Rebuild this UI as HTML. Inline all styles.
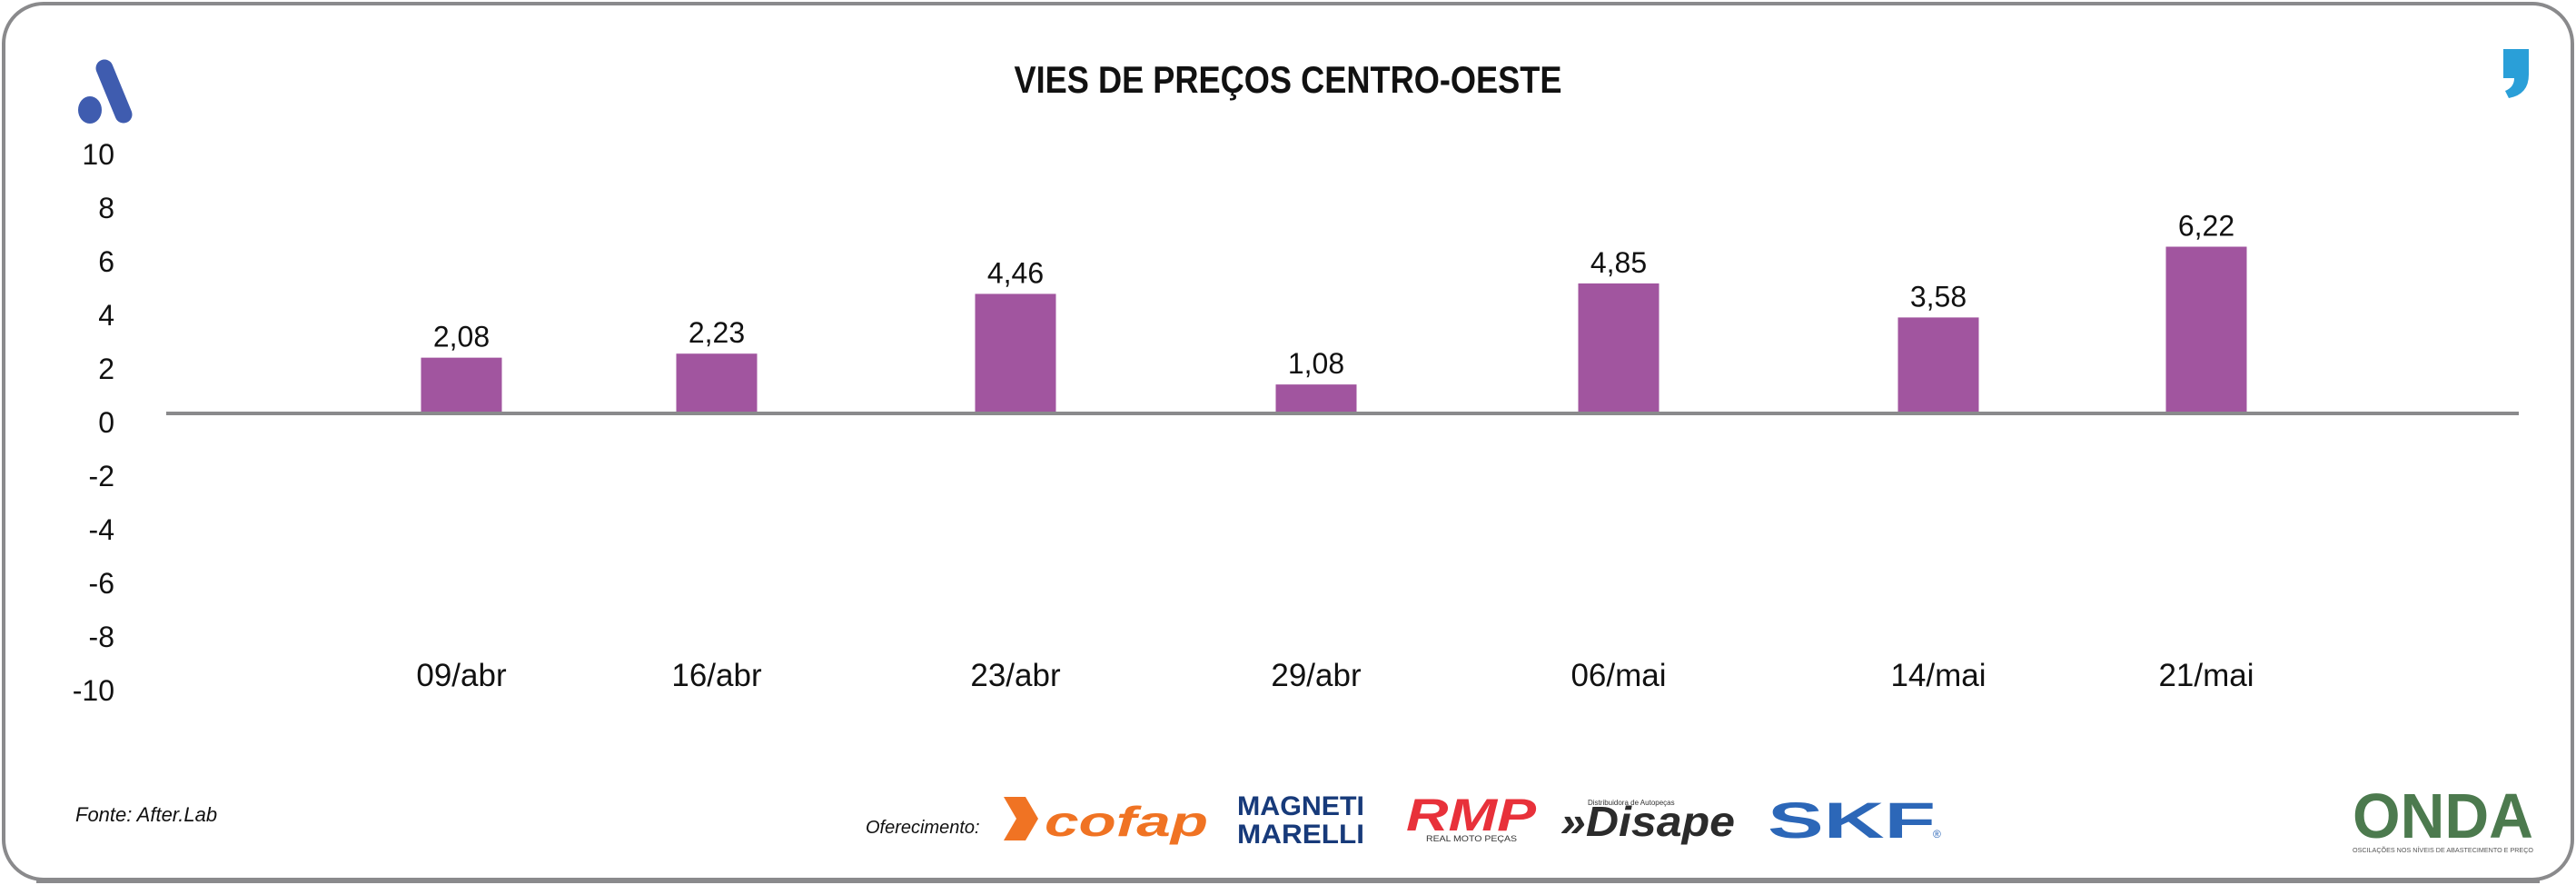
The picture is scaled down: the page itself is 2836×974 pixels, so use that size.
<!DOCTYPE html>
<html><head><meta charset="utf-8"><style>
html,body{margin:0;padding:0;background:#fff}
svg{display:block}
text{font-family:"Liberation Sans Narrow","Liberation Sans",sans-serif}
</style></head><body>
<svg id="chart" width="2836" height="974" viewBox="0 0 2836 974" xmlns="http://www.w3.org/2000/svg">
<rect x="4" y="4" width="2828" height="964" rx="44" fill="#fff" stroke="#8a8a8c" stroke-width="4"/>
<line x1="40" y1="969" x2="2796" y2="969" stroke="#8a8a8c" stroke-width="6"/>
<g>
<line x1="115" y1="75" x2="136" y2="126" stroke="#3f5caf" stroke-width="19" stroke-linecap="round"/>
<ellipse cx="99" cy="121" rx="13" ry="15" fill="#3f5caf"/>
</g>
<path d="M2756 54 h28 v28 q0 22 -22 26 l-4 -8 q10 -4 10 -14 h-12 z" fill="#2a9fd8"/>
<text x="1418" y="102" text-anchor="middle" font-size="42" font-weight="bold" textLength="603" lengthAdjust="spacingAndGlyphs" fill="#111">VIES DE PREÇOS CENTRO-OESTE</text>
<g id="yaxis"></g>
<g id="bars"></g>
<line id="zero" x1="183" x2="2773" stroke="#8a8a8c" stroke-width="4"/>
<g id="xaxis"></g>
<text x="83" y="904" font-size="22" font-style="italic" fill="#111">Fonte: After.Lab</text>
<text x="953" y="917" font-size="20" font-style="italic" fill="#111">Oferecimento:</text>
<g>
<path d="M1105 877 h24 l14 24 l-14 24 h-24 l14 -24 z" fill="#f07323"/>
<text x="1150" y="920" font-size="46" font-weight="bold" font-style="italic" fill="#f07323" textLength="180" lengthAdjust="spacingAndGlyphs">cofap</text>
</g>
<g>
<text x="1432" y="897" text-anchor="middle" font-size="30" font-weight="bold" fill="#173a7a" textLength="140" lengthAdjust="spacingAndGlyphs">MAGNETI</text>
<text x="1432" y="928" text-anchor="middle" font-size="30" font-weight="bold" fill="#173a7a" textLength="140" lengthAdjust="spacingAndGlyphs">MARELLI</text>
</g>
<g>
<text x="1548" y="914" font-size="50" font-weight="bold" font-style="italic" fill="#e8313a" textLength="143" lengthAdjust="spacingAndGlyphs">RMP</text>
<text x="1570" y="926" font-size="9" fill="#333" textLength="100" lengthAdjust="spacingAndGlyphs">REAL MOTO PEÇAS</text>
</g>
<g>
<text x="1748" y="886" font-size="8" fill="#333">Distribuidora de Autopeças</text>
<text x="1718" y="920" font-size="46" font-weight="bold" font-style="italic" fill="#2b2b2b" textLength="192" lengthAdjust="spacingAndGlyphs">»Disape</text>
</g>
<g>
<text x="1946" y="922" font-size="56" font-weight="bold" fill="#2c67b8" textLength="185" lengthAdjust="spacingAndGlyphs">SKF</text>
<text x="2128" y="922" font-size="12" fill="#2c67b8">®</text>
</g>
<g>
<text x="2590" y="922" font-size="70" font-weight="bold" fill="#4c7a4e" textLength="199" lengthAdjust="spacingAndGlyphs">ONDA</text>
<text x="2590" y="938" font-size="7" fill="#555" textLength="199" lengthAdjust="spacingAndGlyphs">OSCILAÇÕES NOS NÍVEIS DE ABASTECIMENTO E PREÇO</text>
</g>
</svg>
<script>
const categories = ["09/abr","16/abr","23/abr","29/abr","06/mai","14/mai","21/mai"];
const values = [2.08, 2.23, 4.46, 1.08, 4.85, 3.58, 6.22];
const valueLabels = ["2,08","2,23","4,46","1,08","4,85","3,58","6,22"];
const yTicks = [10,8,6,4,2,0,-2,-4,-6,-8,-10];
const NS="http://www.w3.org/2000/svg";
const zeroY=455, perUnit=29.5;
function yScale(v){return zeroY - v*perUnit;}
const catCenters=[508,789,1118,1449,1782,2134,2429];
function xScale(i){return catCenters[i];}
const barW=89;
document.getElementById('zero').setAttribute('y1',yScale(0));
document.getElementById('zero').setAttribute('y2',yScale(0));
const ya=document.getElementById('yaxis');
yTicks.forEach(t=>{
  const el=document.createElementNS(NS,'text');
  
  
  el.setAttribute('x',126);el.setAttribute('y',yScale(t)+21);
  el.setAttribute('text-anchor','end');el.setAttribute('font-size','32');el.setAttribute('fill','#111');
  el.textContent=String(t);ya.appendChild(el);
});
const bg=document.getElementById('bars'), xa=document.getElementById('xaxis');
values.forEach((v,i)=>{
  const cx=xScale(i);
  const r=document.createElementNS(NS,'rect');
  
  
  const top=Math.min(yScale(v),yScale(0)), h=Math.abs(yScale(v)-yScale(0));
  r.setAttribute('x',cx-barW/2);r.setAttribute('y',top);r.setAttribute('width',barW);r.setAttribute('height',h);
  r.setAttribute('fill','#a1559f');bg.appendChild(r);
  const lb=document.createElementNS(NS,'text');
  
  
  lb.setAttribute('x',cx);lb.setAttribute('y',top-12);lb.setAttribute('text-anchor','middle');
  lb.setAttribute('font-size','32');lb.setAttribute('fill','#111');
  lb.textContent=valueLabels[i];bg.appendChild(lb);
  const cl=document.createElementNS(NS,'text');
  
  
  cl.setAttribute('x',cx);cl.setAttribute('y',755);cl.setAttribute('text-anchor','middle');
  cl.setAttribute('font-size','35');cl.setAttribute('fill','#111');
  cl.textContent=categories[i];xa.appendChild(cl);
});
</script>
</body></html>
